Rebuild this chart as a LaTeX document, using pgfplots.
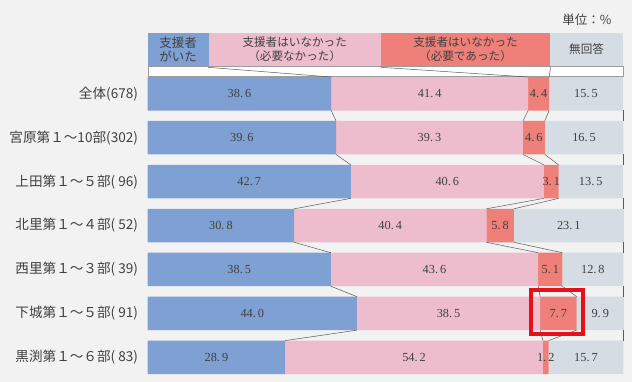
\documentclass[border=0pt]{standalone}
\usepackage{pgfplots}
\pgfplotsset{compat=1.18}
\usepackage{pgfplotstable}
\usepackage{fontspec}
\setmainfont{Liberation Serif}
\newfontfamily\jp{Noto Sans CJK JP}
\definecolor{bg}{RGB}{242,242,242}
\definecolor{cblue}{RGB}{127,160,211}
\definecolor{cpink}{RGB}{238,189,205}
\definecolor{cred}{RGB}{238,128,121}
\definecolor{cgray}{RGB}{214,220,227}
\definecolor{txt}{RGB}{64,64,64}
\definecolor{sline}{RGB}{90,90,90}
\definecolor{hl}{RGB}{232,16,24}
\pgfplotstableread{
row a b c d
0 38.6 41.4 4.4 15.5
1 39.6 39.3 4.6 16.5
2 42.7 40.6 3.1 13.5
3 30.8 40.4 5.8 23.1
4 38.5 43.6 5.1 12.8
5 44.0 38.5 7.7 9.9
6 28.9 54.2 1.2 15.7
}\data
\begin{document}
\begin{tikzpicture}
\fill[bg] (0,0) rectangle (632pt,382pt);
% header legend boxes
\fill[cblue] (147.7pt,316.3pt) rectangle (208.5pt,349pt);
\fill[cpink] (208.5pt,316.3pt) rectangle (381pt,349pt);
\fill[cred] (381pt,316.3pt) rectangle (550pt,349pt);
\fill[cgray] (550pt,316.3pt) rectangle (623.3pt,349pt);
\node[text=txt, font=\jp\fontsize{12.5}{14}\selectfont, align=center] at (178.1pt,332.6pt) {支援者\\がいた};
\node[text=txt, font=\jp\fontsize{11.6}{14}\selectfont, align=center] at (294.7pt,332.6pt) {支援者はいなかった\\（必要なかった）};
\node[text=txt, font=\jp\fontsize{11.6}{14}\selectfont, align=center] at (465.5pt,332.6pt) {支援者はいなかった\\（必要であった）};
\node[text=txt, font=\jp\fontsize{11.6}{14}\selectfont, align=center] at (586.6pt,332.6pt) {無回答};
\node[text=txt, font=\jp\fontsize{12.5}{14}\selectfont, anchor=east] at (615pt,362pt) {単位：\%};
% white strip
\filldraw[fill=white, draw=sline!60, line width=0.4pt] (147.7pt,305.3pt) rectangle (623.3pt,315.5pt);
\begin{axis}[
  at={(147.7pt,2.7pt)}, anchor=south west, scale only axis,
  width=475.6pt, height=307.5pt,
  xmin=0, xmax=100, ymin=-0.5, ymax=6.5, y dir=reverse,
  xbar stacked, bar width=33.5pt,
  axis line style={draw=none}, xtick=\empty,
  ytick={0,...,6},
  yticklabels={全体(678),宮原第１～10部(302),上田第１～５部( 96),北里第１～４部( 52),西里第１～３部( 39),下城第１～５部( 91),黒渕第１～６部( 83)},
  major tick length=0pt,
  yticklabel style={font=\jp\fontsize{13.6}{15}\selectfont, text=txt, inner sep=0pt, xshift=-9.5pt},
  clip=false,
  nodes near coords, point meta=rawx,
  every node near coord/.append style={anchor=center, font=\fontsize{12.3}{14}\selectfont, text=txt,
    /pgf/number format/fixed, /pgf/number format/fixed zerofill, /pgf/number format/precision=1, /pgf/number format/assume math mode=true,
    /pgf/number format/set decimal separator={.\kern2pt}},
]
\addplot[fill=cblue, draw=none] table[x=a, y=row] {\data};
\addplot[fill=cpink, draw=none] table[x=b, y=row] {\data};
\addplot[fill=cred, draw=none] table[x=c, y=row] {\data};
\addplot[fill=cgray, draw=none] table[x=d, y=row] {\data};
\end{axis}
\begin{axis}[
  at={(147.7pt,2.7pt)}, anchor=south west, scale only axis,
  width=475.6pt, height=307.5pt,
  xmin=0, xmax=100, ymin=-0.5, ymax=6.5, y dir=reverse,
  hide axis, clip=false, unbounded coords=jump,
]
\addplot[sline, line width=0.5pt, mark=none] coordinates {
 (12.7,-0.602) (38.6,-0.381) (nan,nan)
 (38.6,0.381) (39.6,0.619) (nan,nan)
 (39.6,1.381) (42.7,1.619) (nan,nan)
 (42.7,2.381) (30.8,2.619) (nan,nan)
 (30.8,3.381) (38.5,3.619) (nan,nan)
 (38.5,4.381) (44.0,4.619) (nan,nan)
 (44.0,5.381) (28.9,5.619)
};
\addplot[sline, line width=0.5pt, mark=none] coordinates {
 (49.0,-0.602) (80.0,-0.381) (nan,nan)
 (80.0,0.381) (78.9,0.619) (nan,nan)
 (78.9,1.381) (83.3,1.619) (nan,nan)
 (83.3,2.381) (71.2,2.619) (nan,nan)
 (71.2,3.381) (82.1,3.619) (nan,nan)
 (82.1,4.381) (82.5,4.619) (nan,nan)
 (82.5,5.381) (83.1,5.619)
};
\addplot[sline, line width=0.5pt, mark=none] coordinates {
 (84.7,-0.602) (84.4,-0.381) (nan,nan)
 (84.4,0.381) (83.5,0.619) (nan,nan)
 (83.5,1.381) (86.4,1.619) (nan,nan)
 (86.4,2.381) (77.0,2.619) (nan,nan)
 (77.0,3.381) (87.2,3.619) (nan,nan)
 (87.2,4.381) (90.2,4.619) (nan,nan)
 (90.2,5.381) (84.3,5.619)
};
\addplot[sline, line width=0.5pt, mark=none] coordinates {
 (100,0.381) (100,0.619) (nan,nan)
 (100,1.381) (100,1.619) (nan,nan)
 (100,2.381) (100,2.619) (nan,nan)
 (100,3.381) (100,3.619) (nan,nan)
 (100,4.381) (100,4.619) (nan,nan)
 (100,5.381) (100,5.619)
};
\end{axis}
\draw[hl, line width=3.2pt] (531pt,48pt) rectangle (583pt,92pt);
\end{tikzpicture}
\end{document}
